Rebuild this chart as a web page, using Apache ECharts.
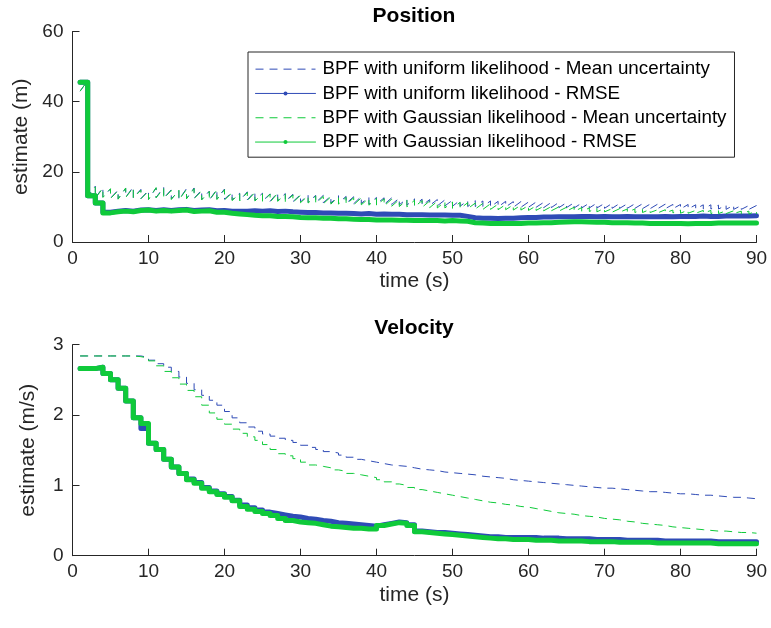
<!DOCTYPE html>
<html><head><meta charset="utf-8">
<script src="https://cdn.jsdelivr.net/npm/echarts@6/dist/echarts.min.js"></script>
<style>html,body{margin:0;padding:0;background:#fff}#c{width:771px;height:628px}</style>
</head><body><div id="c"></div>
<script>
const seriesNames = [
  'BPF with uniform likelihood - Mean uncertainty',
  'BPF with uniform likelihood - RMSE',
  'BPF with Gaussian likelihood - Mean uncertainty',
  'BPF with Gaussian likelihood - RMSE'
];
const plotTitles = ['Position', 'Velocity'];
const xLabel = 'time (s)';
const yLabels = ['estimate (m)', 'estimate (m/s)'];
const xTicks = [0, 10, 20, 30, 40, 50, 60, 70, 80, 90];
const posYTicks = [0, 20, 40, 60];
const velYTicks = [0, 1, 2, 3];

// Position: uncertainty just before (high) and just after (low) each 1 s update, t = 1..90
const posUniUncHigh = [43.0,46.0,15.9,15.5,15.1,14.8,15.3,15.7,15.0,14.7,
  15.4,15.6,14.9,14.6,15.2,15.4,14.8,14.5,15.0,15.1,
  14.2,13.9,14.3,14.4,13.9,13.7,14.1,13.8,13.6,13.5,
  13.4,13.3,13.3,13.1,13.2,13.0,12.9,13.0,12.8,12.7,
  12.6,12.6,12.5,12.3,12.3,12.2,12.1,12.1,12.0,11.9,
  11.9,11.8,11.8,11.7,11.7,11.6,11.6,11.5,11.5,11.4,
  11.4,11.3,11.3,11.3,11.2,11.2,11.1,11.1,11.1,11.0,
  11.0,11.0,10.9,10.9,10.9,10.8,10.8,10.8,10.7,10.7,
  10.7,10.6,10.6,10.6,10.5,10.5,10.5,10.4,10.4,10.4];
const posUniUncLow = [43.0,13.0,12.6,12.9,12.5,12.3,12.8,12.6,12.4,12.2,
  12.7,12.5,12.3,12.1,12.4,12.5,12.1,12.0,12.3,12.2,
  12.0,11.8,12.0,11.9,11.7,11.6,11.8,11.6,11.5,11.4,
  11.3,11.2,11.2,11.1,11.1,11.0,10.9,11.0,10.8,10.8,
  10.7,10.7,10.6,10.5,10.5,10.4,10.4,10.3,10.3,10.2,
  10.2,10.1,10.1,10.1,10.0,10.0,10.0,9.9,9.9,9.9,
  9.9,9.8,9.8,9.8,9.8,9.7,9.7,9.7,9.7,9.6,
  9.6,9.6,9.6,9.6,9.5,9.5,9.5,9.5,9.5,9.4,
  9.4,9.4,9.4,9.4,9.4,9.3,9.3,9.3,9.3,9.3];
const posGauUncHigh = [43.0,46.0,15.7,15.3,15.2,14.6,15.4,15.5,14.8,14.5,
  15.5,15.3,14.7,14.8,15.0,15.2,14.5,14.4,14.8,14.9,
  14.0,13.8,14.1,14.1,13.7,13.6,13.9,13.6,13.4,13.3,
  13.2,13.1,13.0,12.9,12.9,12.7,12.6,12.6,12.5,12.4,
  12.3,12.2,12.1,12.0,11.9,11.8,11.7,11.6,11.5,11.4,
  11.3,11.2,11.1,11.0,10.9,10.8,10.7,10.6,10.5,10.4,
  10.3,10.2,10.1,10.0,9.9,9.9,9.8,9.7,9.6,9.6,
  9.5,9.5,9.4,9.4,9.3,9.3,9.2,9.2,9.1,9.1,
  9.1,9.0,9.0,9.0,8.9,8.9,8.9,8.8,8.8,8.8];
const posGauUncLow = [43.0,13.0,12.5,12.7,12.4,12.2,12.7,12.5,12.3,12.1,
  12.6,12.4,12.1,12.0,12.3,12.4,12.0,11.9,12.1,12.0,
  11.8,11.7,11.8,11.7,11.5,11.4,11.6,11.4,11.3,11.2,
  11.1,11.0,10.9,10.8,10.8,10.7,10.6,10.6,10.5,10.4,
  10.3,10.2,10.1,10.0,10.0,9.9,9.8,9.7,9.7,9.6,
  9.5,9.5,9.4,9.3,9.3,9.2,9.2,9.1,9.1,9.0,
  9.0,8.9,8.9,8.8,8.8,8.7,8.7,8.7,8.6,8.6,
  8.5,8.5,8.5,8.4,8.4,8.4,8.3,8.3,8.3,8.2,
  8.2,8.2,8.2,8.1,8.1,8.1,8.1,8.0,8.0,8.0];
const posUniRmse = [45.5,13.2,11.1,8.5,8.8,9.0,8.8,9.1,9.2,9.0,
  9.2,9.0,9.2,9.3,9.0,9.1,9.2,8.9,9.0,8.8,
  8.8,8.8,8.9,8.8,8.9,8.7,8.8,8.6,8.5,8.4,
  8.4,8.3,8.3,8.2,8.2,8.1,8.0,8.1,7.9,8.0,
  7.9,7.9,7.8,7.8,7.8,7.7,7.7,7.7,7.6,7.6,
  7.3,6.9,6.8,6.8,6.7,6.8,6.8,6.9,7.0,7.0,
  7.1,7.1,7.2,7.2,7.2,7.3,7.3,7.2,7.3,7.2,
  7.2,7.3,7.2,7.2,7.2,7.2,7.3,7.2,7.3,7.3,
  7.3,7.4,7.3,7.3,7.4,7.4,7.4,7.4,7.5,7.5];
const posGauRmse = [45.5,13.2,11.1,8.3,8.6,8.8,8.6,9.0,9.1,8.8,
  9.0,8.8,9.0,9.1,8.7,8.8,8.9,8.5,8.5,8.2,
  8.0,7.8,7.6,7.5,7.5,7.3,7.3,7.2,7.0,6.9,
  6.9,6.8,6.8,6.6,6.6,6.5,6.4,6.4,6.3,6.3,
  6.3,6.2,6.2,6.1,6.1,6.1,6.1,6.0,6.1,6.0,
  5.9,5.5,5.4,5.3,5.3,5.3,5.3,5.3,5.4,5.4,
  5.5,5.5,5.6,5.7,5.8,5.8,5.7,5.6,5.6,5.5,
  5.5,5.5,5.4,5.4,5.3,5.3,5.3,5.3,5.3,5.2,
  5.3,5.3,5.3,5.4,5.4,5.4,5.4,5.4,5.4,5.4];

// Velocity, t = 1..90
const velUniUnc = [2.84,2.84,2.84,2.84,2.84,2.84,2.84,2.84,2.82,2.78,
  2.73,2.68,2.62,2.54,2.45,2.36,2.28,2.21,2.14,2.05,
  1.96,1.89,1.83,1.77,1.73,1.70,1.67,1.64,1.61,1.57,
  1.54,1.51,1.48,1.46,1.43,1.40,1.37,1.35,1.33,1.31,
  1.29,1.28,1.27,1.25,1.23,1.22,1.21,1.19,1.18,1.17,
  1.16,1.15,1.13,1.12,1.11,1.10,1.08,1.07,1.06,1.05,
  1.04,1.03,1.02,1.01,1.00,0.99,0.98,0.97,0.96,0.96,
  0.95,0.94,0.93,0.92,0.91,0.91,0.90,0.89,0.88,0.88,
  0.87,0.86,0.86,0.85,0.84,0.83,0.83,0.82,0.81,0.80];
const velGauUnc = [2.84,2.84,2.84,2.84,2.84,2.84,2.84,2.83,2.81,2.77,
  2.70,2.62,2.53,2.44,2.35,2.26,2.14,2.03,1.94,1.87,
  1.80,1.74,1.69,1.64,1.58,1.51,1.45,1.42,1.38,1.33,
  1.29,1.27,1.25,1.22,1.20,1.17,1.15,1.13,1.11,1.08,
  1.05,1.02,1.00,0.97,0.94,0.92,0.90,0.88,0.86,0.84,
  0.82,0.80,0.78,0.76,0.75,0.73,0.72,0.70,0.69,0.67,
  0.65,0.63,0.61,0.60,0.59,0.57,0.56,0.55,0.53,0.52,
  0.51,0.49,0.48,0.46,0.45,0.44,0.43,0.41,0.40,0.39,
  0.38,0.37,0.36,0.35,0.35,0.34,0.33,0.33,0.32,0.31];
const velUniRmse = [2.66,2.66,2.68,2.59,2.50,2.38,2.20,1.96,1.81,1.60,
  1.51,1.37,1.26,1.17,1.09,1.04,0.97,0.92,0.88,0.84,
  0.79,0.72,0.68,0.65,0.62,0.60,0.58,0.56,0.55,0.53,
  0.52,0.50,0.49,0.47,0.46,0.45,0.44,0.43,0.42,0.44,
  0.46,0.48,0.47,0.44,0.35,0.34,0.33,0.33,0.32,0.31,
  0.30,0.29,0.28,0.27,0.27,0.26,0.26,0.26,0.26,0.26,
  0.25,0.25,0.25,0.24,0.24,0.24,0.24,0.23,0.23,0.23,
  0.23,0.22,0.22,0.22,0.22,0.22,0.21,0.21,0.21,0.21,
  0.21,0.21,0.21,0.20,0.20,0.20,0.20,0.20,0.20,0.20];
const velGauRmse = [2.66,2.66,2.68,2.59,2.50,2.38,2.20,1.96,1.88,1.60,
  1.51,1.37,1.26,1.17,1.08,1.03,0.96,0.91,0.87,0.83,
  0.78,0.70,0.66,0.63,0.60,0.57,0.53,0.50,0.48,0.47,
  0.46,0.44,0.42,0.41,0.40,0.39,0.39,0.38,0.38,0.43,
  0.45,0.47,0.46,0.43,0.34,0.33,0.32,0.31,0.30,0.29,
  0.28,0.27,0.26,0.25,0.24,0.24,0.23,0.23,0.23,0.22,
  0.22,0.22,0.21,0.21,0.21,0.21,0.20,0.20,0.20,0.20,
  0.19,0.19,0.19,0.19,0.19,0.18,0.18,0.18,0.18,0.18,
  0.18,0.18,0.18,0.17,0.17,0.17,0.17,0.17,0.17,0.17];

const BLUE = '#2f4bb6';
const GREEN = '#0fca3a';
const INK = '#262626';
const FONT = '"Liberation Sans", Arial, Helvetica, sans-serif';

function pairs(vals) { return vals.map((v, i) => [i + 1, v]); }
function sawtooth(high, low) {
  const out = [];
  high.forEach((h, i) => { out.push([i + 1, h]); out.push([i + 1, low[i]]); });
  return out;
}

const chart = echarts.init(document.getElementById('c'), null, { renderer: 'canvas' });

function xAxisCfg(gi) {
  return {
    type: 'value', gridIndex: gi, min: xTicks[0], max: xTicks[xTicks.length - 1], interval: 10,
    name: xLabel, nameLocation: 'middle', nameGap: 29,
    nameTextStyle: { color: INK, fontSize: 21, fontFamily: FONT },
    axisLine: { show: true, onZero: false, lineStyle: { color: INK, width: 1 } },
    axisTick: { show: true, inside: true, length: 7, lineStyle: { color: INK } },
    axisLabel: { color: INK, fontSize: 19, fontFamily: FONT, margin: 7 },
    splitLine: { show: false }
  };
}
function yAxisCfg(gi, ticks, name) {
  return {
    type: 'value', gridIndex: gi, min: ticks[0], max: ticks[ticks.length - 1], interval: ticks[1] - ticks[0],
    name: name, nameLocation: 'middle', nameGap: 34,
    nameTextStyle: { color: INK, fontSize: 21, fontFamily: FONT },
    axisLine: { show: true, onZero: false, lineStyle: { color: INK, width: 1 } },
    axisTick: { show: true, inside: true, length: 7, lineStyle: { color: INK } },
    axisLabel: { color: INK, fontSize: 19, fontFamily: FONT, margin: 9 },
    splitLine: { show: false }
  };
}

const uncStyle = (c) => ({ color: c, width: 1, type: [8, 6] });
const rmseStyle = (c) => ({ color: c, width: 5, join: 'round', cap: 'round' });

const series = [];
[0, 1].forEach(gi => {
  const uniUnc = gi === 0 ? sawtooth(posUniUncHigh, posUniUncLow) : pairs(velUniUnc);
  const gauUnc = gi === 0 ? sawtooth(posGauUncHigh, posGauUncLow) : pairs(velGauUnc);
  const uniR = gi === 0 ? posUniRmse : velUniRmse;
  const gauR = gi === 0 ? posGauRmse : velGauRmse;
  series.push({ name: seriesNames[0], type: 'line', xAxisIndex: gi, yAxisIndex: gi, data: uniUnc,
    symbol: 'none', lineStyle: uncStyle(BLUE), itemStyle: { color: BLUE }, animation: false, silent: true,
    step: gi === 1 ? 'end' : false });
  series.push({ name: seriesNames[1], type: 'line', xAxisIndex: gi, yAxisIndex: gi, data: pairs(uniR),
    symbol: 'circle', symbolSize: 4, showSymbol: false, step: 'end',
    lineStyle: rmseStyle(BLUE), itemStyle: { color: BLUE }, animation: false, silent: true });
  series.push({ name: seriesNames[2], type: 'line', xAxisIndex: gi, yAxisIndex: gi, data: gauUnc,
    symbol: 'none', lineStyle: uncStyle(GREEN), itemStyle: { color: GREEN }, animation: false, silent: true,
    step: gi === 1 ? 'end' : false });
  series.push({ name: seriesNames[3], type: 'line', xAxisIndex: gi, yAxisIndex: gi, data: pairs(gauR),
    symbol: 'circle', symbolSize: 4, showSymbol: false, step: 'end',
    lineStyle: rmseStyle(GREEN), itemStyle: { color: GREEN }, animation: false, silent: true });
});

chart.setOption({
  backgroundColor: '#ffffff',
  animation: false,
  title: [
    { text: plotTitles[0], left: 414, top: 6, textAlign: 'center', padding: 0,
      textStyle: { fontSize: 21, fontWeight: 'bold', color: '#000', fontFamily: FONT } },
    { text: plotTitles[1], left: 414, top: 318, textAlign: 'center', padding: 0,
      textStyle: { fontSize: 21, fontWeight: 'bold', color: '#000', fontFamily: FONT } }
  ],
  grid: [
    { left: 72.5, width: 684, top: 31.5, height: 210.5, containLabel: false },
    { left: 72.5, width: 684, top: 344.7, height: 211, containLabel: false }
  ],
  xAxis: [xAxisCfg(0), xAxisCfg(1)],
  yAxis: [yAxisCfg(0, posYTicks, yLabels[0]), yAxisCfg(1, velYTicks, yLabels[1])],
  legend: {
    orient: 'vertical', left: 248, top: 52, selectedMode: false,
    padding: [5, 8, 3, 7], itemGap: 0, itemWidth: 60, itemHeight: 5,
    backgroundColor: '#ffffff', borderColor: INK, borderWidth: 1, borderRadius: 0,
    textStyle: { color: '#000', fontSize: 18.8, fontFamily: FONT, lineHeight: 24.3, padding: [0, 0, 0, 2] },
    itemStyle: { borderWidth: 0 },
    data: [
      { name: seriesNames[0], lineStyle: { width: 1 }, itemStyle: { opacity: 0 } },
      { name: seriesNames[1], lineStyle: { width: 1 } },
      { name: seriesNames[2], lineStyle: { width: 1 }, itemStyle: { opacity: 0 } },
      { name: seriesNames[3], lineStyle: { width: 1 } }
    ]
  },
  series: series
});
</script>
</body></html>
